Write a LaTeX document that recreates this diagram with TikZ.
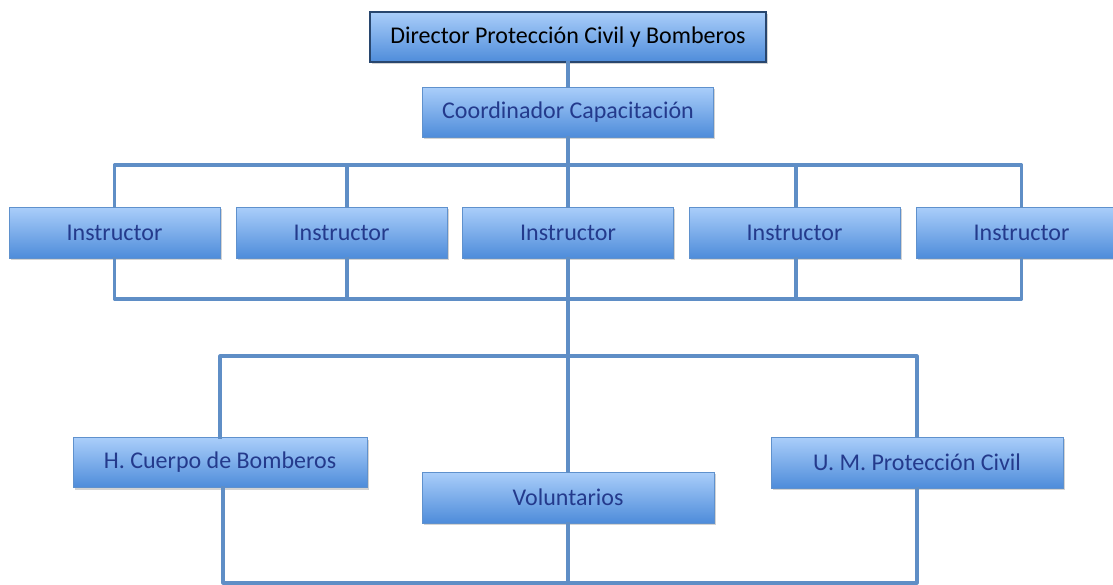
\documentclass[tikz,border=0pt]{standalone}
\usepackage{fontspec}
\setmainfont{Carlito}
\usetikzlibrary{shadows,calc}
\definecolor{boxtop}{RGB}{170,206,250}
\definecolor{boxbot}{RGB}{78,140,218}
\definecolor{boxedge}{RGB}{95,145,205}
\definecolor{diredge}{RGB}{40,70,110}
\definecolor{txtblue}{RGB}{36,58,140}
\definecolor{linecol}{RGB}{95,142,198}
\tikzset{
  orgbox/.style={rectangle, top color=boxtop, bottom color=boxbot, draw=boxedge, line width=0.8pt,
    text=txtblue, font=\fontsize{24}{28}\selectfont, inner sep=0pt,
    drop shadow={shadow xshift=1.5pt, shadow yshift=-2pt, opacity=0.35, fill=gray}},
  dirbox/.style={orgbox, draw=diredge, line width=1.2pt, text=black},
  conn/.style={draw=linecol, line width=3.2pt, line join=round, line cap=rect}
}
\begin{document}
\begin{tikzpicture}[x=1pt,y=-1pt]
\useasboundingbox (0,0) rectangle (1113,584);
% bus coordinates
\coordinate (tb) at (0,165);
\coordinate (bb) at (0,299);
\coordinate (mb) at (0,356);
\coordinate (lb) at (0,583);
\coordinate (x2) at (347,0);
\coordinate (x4) at (796,0);
\coordinate (xl) at (223,0);
% boxes
\node[dirbox, minimum width=396pt, minimum height=50pt] (dir) at (568,37) {Director Protección Civil y Bomberos};
\node[orgbox, minimum width=291pt, minimum height=50pt] (coord) at (568,112) {Coordinador Capacitación};
\foreach \n/\cx in {i1/114.5, i2/341.5, i3/568, i4/794.5, i5/1021.5}{
  \node[orgbox, minimum width=211pt, minimum height=51pt] (\n) at (\cx,232.5) {Instructor};
}
\node[orgbox, minimum width=294pt, minimum height=50pt] (hc) at (220,462.5) {H. Cuerpo de Bomberos};
\node[orgbox, minimum width=292pt, minimum height=51pt] (vol) at (568,497.5) {Voluntarios};
\node[orgbox, minimum width=292pt, minimum height=51pt] (um) at (917,462.5) {U. M. Protección Civil};
% connectors
\path[conn] (dir.south) -- (coord.north);
\path[conn] (coord.south) -- (coord.south |- tb);
\path[conn] (i1.north) -- (i1.north |- tb) -- (i5.north |- tb) -- (i5.north);
\path[conn] (i2.north -| x2) -- (x2 |- tb);
\path[conn] (i3.north) -- (i3.north |- tb);
\path[conn] (i4.north -| x4) -- (x4 |- tb);
\path[conn] (i1.south) -- (i1.south |- bb) -- (i5.south |- bb) -- (i5.south);
\path[conn] (i2.south -| x2) -- (x2 |- bb);
\path[conn] (i4.south -| x4) -- (x4 |- bb);
\path[conn] (i3.south) -- (vol.north);
\path[conn] (hc.north) -- (hc.north |- mb) -- (um.north |- mb) -- (um.north);
\path[conn] (hc.south -| xl) -- (xl |- lb) -- (um.south |- lb) -- (um.south);
\path[conn] (vol.south) -- (vol.south |- lb);
\end{tikzpicture}
\end{document}
